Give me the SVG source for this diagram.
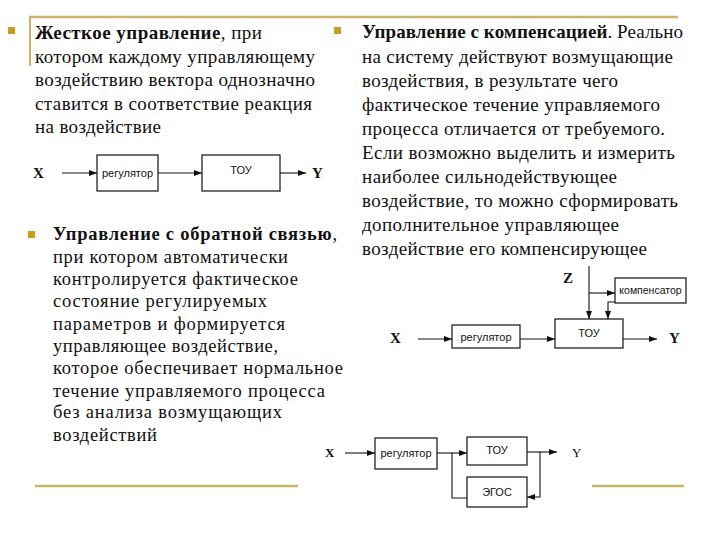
<svg xmlns="http://www.w3.org/2000/svg" width="720" height="540" viewBox="0 0 720 540">
<style>
.t{font-family:"Liberation Serif","Times New Roman",serif;fill:#111}
.t1{font-size:19px}
.t3{font-size:18.5px}
.b{font-weight:bold}
.gold{stroke:#C9B56A;fill:none}
.bul{fill:#CC9A1E}
.box{fill:#fff;stroke:#111;stroke-width:1.2}
.bl{font-family:"Liberation Sans",Arial,sans-serif;font-size:11px;fill:#111;text-anchor:middle}
.lbl{font-family:"Liberation Serif","Times New Roman",serif;font-size:15px;font-weight:bold;fill:#111}
.ln{stroke:#111;stroke-width:1.1;fill:none}
</style>
<defs>
<marker id="ar" viewBox="0 0 8 6" refX="8" refY="3" markerWidth="8" markerHeight="6" orient="auto" markerUnits="userSpaceOnUse">
<path d="M0,0 L8,3 L0,6 Z" fill="#111"/>
</marker>
</defs>
<rect width="720" height="540" fill="#fff"/>
<g id="decor">
<line class="gold" x1="29" y1="17" x2="678" y2="17" stroke-width="2.5"/>
<line class="gold" x1="30" y1="17" x2="30" y2="66" stroke-width="2"/>
<line class="gold" x1="35" y1="486" x2="298" y2="486" stroke-width="2.5"/>
<line class="gold" x1="592" y1="486" x2="684" y2="486" stroke-width="2.5"/>
<rect class="bul" x="8" y="27" width="7" height="7"/>
<rect class="bul" x="334" y="27" width="7" height="7"/>
<rect class="bul" x="28" y="231" width="7" height="7"/>
</g>
<g id="text-left" class="t t1" font-family="Liberation Serif, Times New Roman, serif">
<text x="35" y="39" textLength="227"><tspan class="b">Жесткое управление</tspan>, при</text>
<text x="35" y="63" textLength="280">котором каждому управляющему</text>
<text x="35" y="86" textLength="280">воздействию вектора однозначно</text>
<text x="35" y="110" textLength="277">ставится в соответствие реакция</text>
<text x="35" y="133" textLength="126">на воздействие</text>
</g>
<g id="text-right" class="t t1" font-family="Liberation Serif, Times New Roman, serif">
<text x="362" y="38" textLength="321"><tspan class="b">Управление с компенсацией</tspan>. Реально</text>
<text x="362" y="63" textLength="311">на систему действуют возмущающие</text>
<text x="362" y="87" textLength="256">воздействия, в результате чего</text>
<text x="362" y="111" textLength="298">фактическое течение управляемого</text>
<text x="362" y="135" textLength="303">процесса отличается от требуемого.</text>
<text x="362" y="159" textLength="313">Если возможно выделить и измерить</text>
<text x="362" y="183" textLength="255">наиболее сильнодействующее</text>
<text x="362" y="207" textLength="316">воздействие, то можно сформировать</text>
<text x="362" y="231" textLength="257">дополнительное управляющее</text>
<text x="362" y="255" textLength="285">воздействие его компенсирующее</text>
</g>
<g id="text-feedback" class="t t3" font-family="Liberation Serif, Times New Roman, serif">
<text x="53" y="240" textLength="284"><tspan class="b">Управление с обратной связью</tspan>,</text>
<text x="53" y="263" textLength="235">при котором автоматически</text>
<text x="53" y="285" textLength="245">контролируется фактическое</text>
<text x="53" y="307" textLength="214">состояние регулируемых</text>
<text x="53" y="330" textLength="232">параметров и формируется</text>
<text x="53" y="352" textLength="225">управляющее воздействие,</text>
<text x="53" y="374" textLength="290">которое обеспечивает нормальное</text>
<text x="53" y="397" textLength="272">течение управляемого процесса</text>
<text x="53" y="418" textLength="229">без анализа возмущающих</text>
<text x="53" y="441" textLength="104">воздействий</text>
</g>
<g id="connectors">
<line class="ln" x1="62" y1="173" x2="97" y2="173" marker-end="url(#ar)"/>
<line class="ln" x1="158" y1="173" x2="202" y2="173" marker-end="url(#ar)"/>
<line class="ln" x1="280" y1="173" x2="306" y2="173" marker-end="url(#ar)"/>
<line class="ln" x1="418" y1="339" x2="452" y2="339" marker-end="url(#ar)"/>
<line class="ln" x1="520" y1="339" x2="555" y2="339" marker-end="url(#ar)"/>
<line class="ln" x1="623" y1="339" x2="657" y2="339" marker-end="url(#ar)"/>
<line class="ln" x1="589" y1="266" x2="589" y2="319" marker-end="url(#ar)"/>
<line class="ln" x1="589" y1="293" x2="615" y2="293" marker-end="url(#ar)"/>
<path class="ln" d="M615,302 H608 V319" marker-end="url(#ar)"/>
<line class="ln" x1="345" y1="453" x2="375" y2="453" marker-end="url(#ar)"/>
<line class="ln" x1="437" y1="453" x2="467" y2="453" marker-end="url(#ar)"/>
<line class="ln" x1="527" y1="452" x2="557" y2="452" marker-end="url(#ar)"/>
<path class="ln" d="M540,452 V497 H527" marker-end="url(#ar)"/>
<path class="ln" d="M467,498 H452 V453"/>
</g>
<g id="d1-X"><text class="lbl" x="33" y="178">X</text></g>
<g id="d1-reg"><rect class="box" x="97" y="155" width="61" height="36"/><text class="bl" x="127.5" y="177">регулятор</text></g>
<g id="d1-tou"><rect class="box" x="202" y="155" width="78" height="36"/><text class="bl" x="241" y="174">ТОУ</text></g>
<g id="d1-Y"><text class="lbl" x="312" y="178">Y</text></g>
<g id="d2-Z"><text class="lbl" x="563" y="283">Z</text></g>
<g id="d2-komp"><rect class="box" x="615" y="278" width="71" height="25"/><text class="bl" x="650.5" y="294" style="font-size:10.5px">компенсатор</text></g>
<g id="d2-X"><text class="lbl" x="390" y="343">X</text></g>
<g id="d2-reg"><rect class="box" x="452" y="325" width="68" height="23"/><text class="bl" x="486" y="341">регулятор</text></g>
<g id="d2-tou"><rect class="box" x="555" y="319" width="68" height="29"/><text class="bl" x="589" y="337">ТОУ</text></g>
<g id="d2-Y"><text class="lbl" x="669" y="343">Y</text></g>
<g id="d3-X"><text class="lbl" x="325" y="457" style="font-size:13px">X</text></g>
<g id="d3-reg"><rect class="box" x="375" y="438" width="62" height="31"/><text class="bl" x="406" y="457">регулятор</text></g>
<g id="d3-tou"><rect class="box" x="467" y="437" width="60" height="28"/><text class="bl" x="497" y="454">ТОУ</text></g>
<g id="d3-egos"><rect class="box" x="467" y="477" width="60" height="30"/><text class="bl" x="497" y="496">ЭГОС</text></g>
<g id="d3-Y"><text class="lbl" x="572" y="457" style="font-size:13px;font-weight:normal">Y</text></g>
</svg>
